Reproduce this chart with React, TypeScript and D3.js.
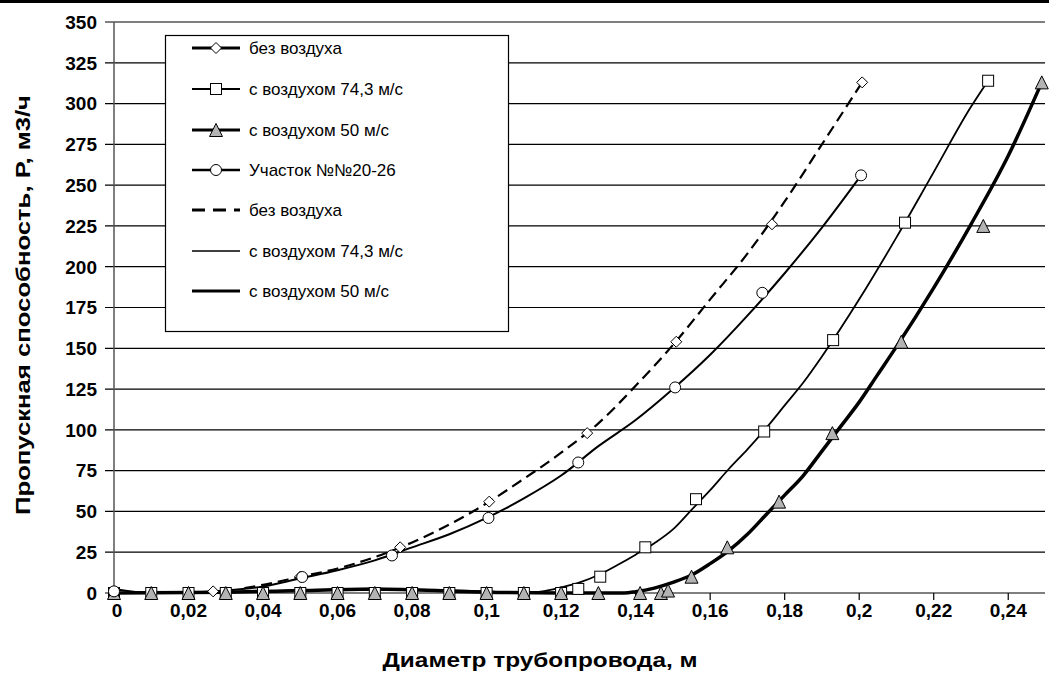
import React from "react";
import * as d3 from "d3";

// ---- data ----
const yTicks = [0, 25, 50, 75, 100, 125, 150, 175, 200, 225, 250, 275, 300, 325, 350];
const xTicks = [0, 0.02, 0.04, 0.06, 0.08, 0.1, 0.12, 0.14, 0.16, 0.18, 0.2, 0.22, 0.24];

// marker series
const diamondX = [0.0266, 0.05, 0.0768, 0.1007, 0.127, 0.1509, 0.1766, 0.2008];
const diamondY = [1, 10, 28, 56, 98, 154, 226, 313];

const squareX = [0, 0.01, 0.02, 0.03, 0.04, 0.05, 0.06, 0.07, 0.08, 0.09, 0.1, 0.11, 0.12, 0.1246, 0.1305, 0.1426, 0.1562, 0.1745, 0.193, 0.2123, 0.2346];
const squareY = [0, 0, 0, 0, 0, 0, 0, 0, 0, 0, 0, 0, 0, 2.5, 10, 28, 57.5, 99, 155, 227, 314];

const triangleX = [0, 0.01, 0.02, 0.03, 0.04, 0.05, 0.06, 0.07, 0.08, 0.09, 0.1, 0.11, 0.12, 0.13, 0.1412, 0.1468, 0.1487, 0.155, 0.1646, 0.1785, 0.1928, 0.2113, 0.2333, 0.249];
const triangleY = [0, 0, 0, 0, 0, 0, 0, 0, 0, 0, 0, 0, 0, 0, 0, 0, 1.5, 10, 28, 56, 98, 154, 225, 313];

const circleX = [0, 0.0505, 0.0746, 0.1005, 0.1246, 0.1506, 0.174, 0.2005];
const circleY = [1, 9.8, 23, 46, 80, 126, 184, 256];

// curve (line) series
const dashX = [0.035, 0.04, 0.05, 0.06, 0.07, 0.08, 0.09, 0.1, 0.11, 0.12, 0.13, 0.14, 0.15, 0.16, 0.17, 0.18, 0.19, 0.2008];
const dashY = [3, 5, 10, 15, 22, 31, 42, 55, 70, 86, 104, 127, 152, 180, 208, 240, 275, 313];

const sectionX = [0, 0.01, 0.02, 0.03, 0.04, 0.05, 0.06, 0.07, 0.08, 0.09, 0.1, 0.11, 0.12, 0.13, 0.14, 0.15, 0.16, 0.17, 0.18, 0.19, 0.2005];
const sectionY = [2.5, 0, 0.3, 1.5, 4, 9, 14, 20, 28, 36, 46, 58, 72, 90, 106, 125, 146, 170, 196, 224, 256];

const thinX = [0, 0.02, 0.04, 0.06, 0.08, 0.1, 0.11, 0.115, 0.12, 0.125, 0.13, 0.135, 0.14, 0.145, 0.15, 0.155, 0.16, 0.165, 0.17, 0.175, 0.18, 0.185, 0.19, 0.2, 0.21, 0.22, 0.23, 0.2346];
const thinY = [0, 0, 1, 2, 2, 1, 0, 1, 3.5, 6.5, 11, 17, 23.5, 30.5, 39, 51, 63, 76, 88, 101, 115, 129, 145, 180, 218, 258, 298, 314];

const thickX = [0, 0.03, 0.05, 0.07, 0.08, 0.1, 0.12, 0.137, 0.14, 0.145, 0.15, 0.155, 0.16, 0.165, 0.17, 0.175, 0.18, 0.185, 0.19, 0.195, 0.2, 0.205, 0.21, 0.22, 0.23, 0.24, 0.249];
const thickY = [0, 0.5, 1.5, 2.5, 2, 0.5, 0, 0, 0.8, 3, 6.5, 11, 18, 26, 36, 48, 60, 72, 87, 102, 117, 134, 151, 187, 226, 268, 313];

const legendLabels = [
  "без воздуха",
  "с воздухом 74,3 м/с",
  "с воздухом 50 м/с",
  "Участок №№20-26",
  "без воздуха",
  "с воздухом 74,3 м/с",
  "с воздухом 50 м/с",
];

const W = 1049;
const H = 686;
const FONT = "'Liberation Sans', Arial, sans-serif";

const zip = (xs: number[], ys: number[]) => xs.map((x, i) => [x, ys[i]] as [number, number]);

export default function App() {
  const x = d3.scaleLinear().domain([0, 0.25]).range([114, 1045.5]);
  const y = d3.scaleLinear().domain([0, 350]).range([593, 22]);
  const line = d3
    .line<[number, number]>()
    .x((d) => x(d[0]))
    .y((d) => y(d[1]))
    .curve(d3.curveMonotoneX);

  const fmt = (v: number) => String(v).replace(".", ",");

  const diamond = (cx: number, cy: number, s: number) =>
    `M${cx},${cy - s}L${cx + s},${cy}L${cx},${cy + s}L${cx - s},${cy}Z`;
  const tri = (cx: number, cy: number, s: number) =>
    `M${cx},${cy - s}L${cx + s},${cy + s}L${cx - s},${cy + s}Z`;

  const legendY = [48, 89, 130, 170, 210, 251, 291];
  const lx1 = 192;
  const lx2 = 240;
  const lmx = (lx1 + lx2) / 2;

  return (
    <svg width={W} height={H} style={{ position: "absolute", left: 0, top: 0, background: "#fff" }}>
      <rect x={0} y={0} width={W} height={H} fill="#fff" />
      <rect x={0} y={0} width={W} height={3} fill="#000" />
      {/* gridlines */}
      {yTicks.map((t) => (
        <g key={"g" + t}>
          <line x1={105} x2={1045} y1={y(t)} y2={y(t)} stroke="#000" strokeWidth={1.2} />
          <text x={97} y={y(t)} dy="0.36em" textAnchor="end" fontFamily={FONT} fontWeight="bold" fontSize={19}>
            {t}
          </text>
        </g>
      ))}
      {/* axes */}
      <line x1={114} x2={114} y1={22} y2={593} stroke="#555" strokeWidth={1.5} />
      {xTicks.map((t) => (
        <g key={"x" + t}>
          <line x1={x(t)} x2={x(t)} y1={593} y2={600} stroke="#000" strokeWidth={1.2} />
          <text x={x(t) + (t === 0 ? 3 : 0)} y={617} textAnchor="middle" fontFamily={FONT} fontWeight="bold" fontSize={19}>
            {fmt(t)}
          </text>
        </g>
      ))}
      <text
        x={540}
        y={667}
        textAnchor="middle"
        fontFamily={FONT}
        fontWeight="bold"
        fontSize={21}
        textLength={315}
        lengthAdjust="spacingAndGlyphs"
      >
        Диаметр трубопровода, м
      </text>
      <text
        transform={`translate(30,305) rotate(-90)`}
        textAnchor="middle"
        fontFamily={FONT}
        fontWeight="bold"
        fontSize={21}
        textLength={420}
        lengthAdjust="spacingAndGlyphs"
      >
        Пропускная способность, P, м3/ч
      </text>

      {/* curves */}
      <path d={line(zip(thickX, thickY)) || ""} fill="none" stroke="#000" strokeWidth={3.5} />
      <path d={line(zip(thinX, thinY)) || ""} fill="none" stroke="#000" strokeWidth={1.8} />
      <path d={line(zip(sectionX, sectionY)) || ""} fill="none" stroke="#000" strokeWidth={2} />
      <path d={line(zip(dashX, dashY)) || ""} fill="none" stroke="#000" strokeWidth={2.2} strokeDasharray="11,6" />

      {/* markers */}
      {zip(diamondX, diamondY).map(([a, b], i) => (
        <path key={"d" + i} d={diamond(x(a), y(b), 5.5)} fill="#fff" stroke="#000" strokeWidth={1} />
      ))}
      {zip(squareX, squareY).map(([a, b], i) => (
        <rect key={"s" + i} x={x(a) - 5.5} y={y(b) - 5.5} width={11} height={11} fill="#fff" stroke="#000" strokeWidth={1} />
      ))}
      {zip(triangleX, triangleY).map(([a, b], i) => (
        <path key={"t" + i} d={tri(x(a), y(b), 6.5)} fill="#b3b3b3" stroke="#000" strokeWidth={1} />
      ))}
      {zip(circleX, circleY).map(([a, b], i) => (
        <circle key={"c" + i} cx={x(a)} cy={y(b)} r={5.5} fill="#fff" stroke="#000" strokeWidth={1} />
      ))}

      {/* legend */}
      <rect x={165.5} y={35.5} width={343} height={296} fill="#fff" stroke="#000" strokeWidth={1.2} />
      {legendLabels.map((lab, i) => {
        const ly = legendY[i];
        let sw = 3;
        let dash: string | undefined;
        if (i === 1) sw = 2;
        if (i === 3) sw = 2.5;
        if (i === 4) dash = "13,8";
        if (i === 5) sw = 1.5;
        return (
          <g key={"l" + i}>
            <line x1={lx1} x2={lx2} y1={ly} y2={ly} stroke="#000" strokeWidth={sw} strokeDasharray={dash} />
            {i === 0 && <path d={diamond(lmx, ly, 5.5)} fill="#fff" stroke="#000" />}
            {i === 1 && <rect x={lmx - 5.5} y={ly - 5.5} width={11} height={11} fill="#fff" stroke="#000" />}
            {i === 2 && <path d={tri(lmx, ly, 6.5)} fill="#b3b3b3" stroke="#000" />}
            {i === 3 && <circle cx={lmx} cy={ly} r={5.5} fill="#fff" stroke="#000" />}
            <text x={249} y={ly} dy="0.36em" fontFamily={FONT} fontSize={17}>
              {lab}
            </text>
          </g>
        );
      })}
    </svg>
  );
}
